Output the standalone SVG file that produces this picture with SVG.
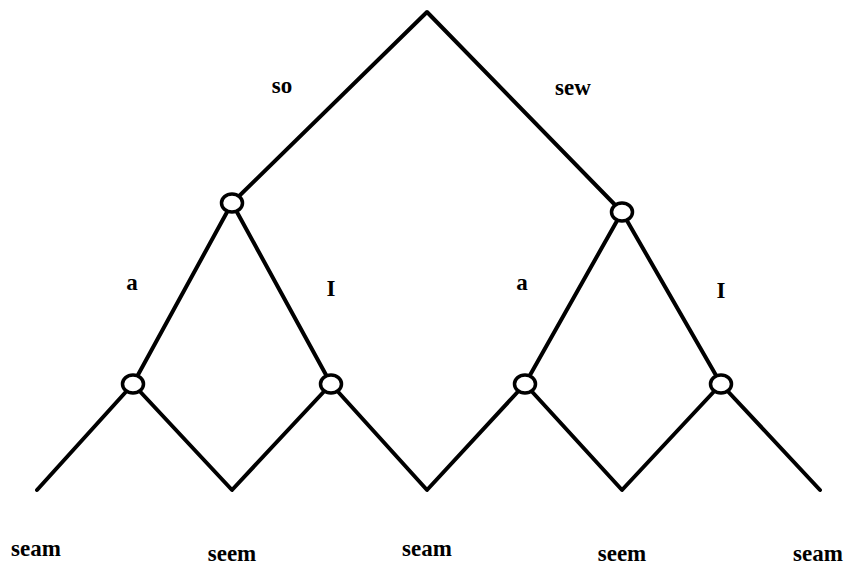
<svg xmlns="http://www.w3.org/2000/svg" width="845" height="569" viewBox="0 0 845 569">
<style>
.e{fill:none;stroke:#000;stroke-width:4;stroke-linecap:round;stroke-linejoin:round}
.n{fill:#fff;stroke:#000;stroke-width:3.5}
text{font-family:"Liberation Serif","Times New Roman",serif;font-size:23px;font-weight:bold;fill:#000;text-anchor:middle}
</style>
<rect width="845" height="569" fill="#fff"/>
<g id="connectors">
<polyline class="e" points="232,203 427,12 622,212"/>
<polyline class="e" points="133,384 232,203 331,384"/>
<polyline class="e" points="525,384 622,212 721,384"/>
<polyline class="e" points="37,490 133,384 232,490 331,384 427,490 525,384 622,490 721,384 820,490"/>
</g>
<g id="n-left"><ellipse class="n" cx="232" cy="203" rx="10.5" ry="9"/></g>
<g id="n-right"><ellipse class="n" cx="622" cy="212" rx="10.5" ry="9"/></g>
<g id="n-ll"><ellipse class="n" cx="133" cy="384" rx="10.5" ry="9"/></g>
<g id="n-lr"><ellipse class="n" cx="331" cy="384" rx="10.5" ry="9"/></g>
<g id="n-rl"><ellipse class="n" cx="525" cy="384" rx="10.5" ry="9"/></g>
<g id="n-rr"><ellipse class="n" cx="721" cy="384" rx="10.5" ry="9"/></g>
<g id="labels">
<text x="282" y="93">so</text>
<text x="573" y="95">sew</text>
<text x="132" y="290">a</text>
<text x="331" y="296">I</text>
<text x="522" y="290">a</text>
<text x="721" y="298">I</text>
<text x="36" y="556">seam</text>
<text x="232" y="561">seem</text>
<text x="427" y="556">seam</text>
<text x="622" y="561">seem</text>
<text x="818" y="561">seam</text>
</g>
</svg>
